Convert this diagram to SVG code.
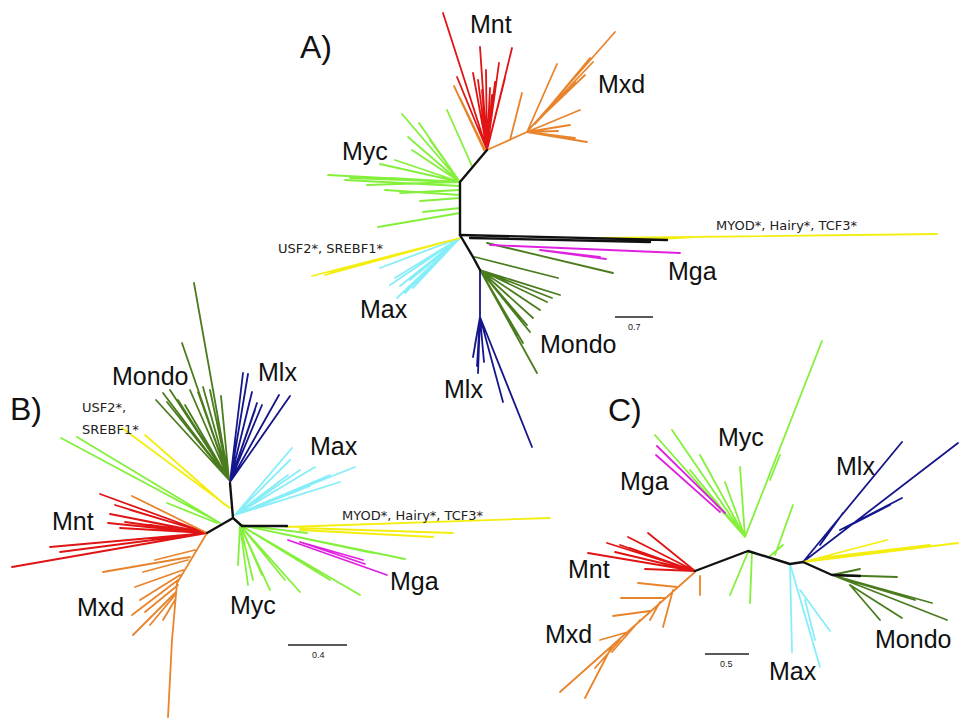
<svg xmlns="http://www.w3.org/2000/svg" width="959" height="718" viewBox="0 0 959 718">
  <style>
    .br { fill: none; stroke-width: 1.8; stroke-linecap: round; }
    .trunk { fill: none; stroke: #111; stroke-width: 2.4; stroke-linecap: round; stroke-linejoin: round; }
    .myc { stroke: #84f03c; }
    .mnt { stroke: #e01414; }
    .mxd { stroke: #e8842c; }
    .max { stroke: #86eef8; }
    .mondo { stroke: #4a7c1e; }
    .mlx { stroke: #16168c; }
    .mga { stroke: #e020e0; }
    .yel { stroke: #f4ee10; }
    .lab { font-family: "Liberation Sans", Arial, sans-serif; font-size: 25px; fill: #111; }
    .panel { font-family: "Liberation Sans", Arial, sans-serif; font-size: 32px; fill: #111; }
    .note { font-family: "DejaVu Sans", "Liberation Sans", sans-serif; font-size: 13px; fill: #222; }
    .scale { font-family: "Liberation Sans", Arial, sans-serif; font-size: 9px; fill: #222; }
    .bar { stroke: #222; stroke-width: 1.5; }
  </style>

  <!-- ===== Tree A ===== -->
  <g id="treeA">
    <text class="panel" x="300" y="58">A)</text>
    <g id="A-myc">
      <path class="br myc" d="M460 182 L402 114 M460 182 L419 123 M460 182 L408 137 M460 182 L380 164 M460 182 L328 175 M460 182 L350 178 M460 182 L395 160 M460 182 L412 150 M460 182 L390 178 M460 182 L430 140 M460 182 L367 185 M460 186 L345 180 M460 190 L400 193 M460 198 L420 201 M460 208 L423 212 M460 213 L378 227 M460 195 L385 190 M472 166 L447 110"/>
      <text class="lab" x="342" y="160">Myc</text>
    </g>
    <g id="A-mnt">
      <path class="br mnt" d="M487 150 L443 13 M487 150 L480 47 M487 150 L512 48 M487 150 L499 63 M487 150 L505 78 M487 150 L457 77 M487 150 L473 73 M487 150 L483 100 M487 150 L490 88 M487 150 L495 82 M487 150 L478 80 M487 150 L486 70 M487 150 L482 90 M487 150 L492 95"/>
      <path class="br mxd" d="M484 150 L454 86 M485 150 L460 98"/>
      <text class="lab" x="470" y="33">Mnt</text>
    </g>
    <g id="A-mxd">
      <path class="br mxd" d="M487 150 L527 132 M527 132 L615 32 M527 132 L557 64 M510 140 L522 93 M527 132 L580 110 M527 132 L587 142 M527 132 L558 131 M540 118 L593 62 M535 124 L575 82 M530 128 L560 96 M545 112 L590 58 M538 120 L585 75 M527 132 L570 125 M527 132 L575 138"/>
      <text class="lab" x="598" y="93">Mxd</text>
    </g>
    <g id="A-mondo">
      <path class="br mondo" d="M487 243 L613 273 M475 257 L558 278 M480 270 L560 295 M480 270 L547 302 M480 270 L527 325 M480 270 L537 373 M480 270 L523 343 M480 270 L540 310 M480 270 L530 332 M480 270 L518 335 M480 270 L552 298 M480 270 L533 318"/>
      <text class="lab" x="540" y="353">Mondo</text>
    </g>
    <g id="A-mlx">
      <path class="br mlx" d="M480 270 L480 317 M480 317 L478 373 M480 317 L503 402 M480 317 L532 447 M480 317 L473 357 M480 317 L477 366 M480 317 L484 362 M480 317 L475 345"/>
      <text class="lab" x="444" y="398">Mlx</text>
    </g>
    <g id="A-max">
      <path class="br max" d="M460 238 L397 298 M460 238 L380 268 M460 238 L413 288 M460 238 L390 285 M460 238 L405 293 M460 238 L395 278 M460 238 L420 272 M460 238 L400 286 M460 238 L410 280"/>
      <text class="lab" x="360" y="318">Max</text>
    </g>
    <g id="A-usf">
      <path class="br yel" d="M460 238 L312 276 M460 238 L325 275 M440 243 L330 272"/>
      <text class="note" x="278" y="253">USF2*, SREBF1*</text>
    </g>
    <g id="A-myod">
      <path class="br yel" d="M600 238 L937 234 M640 240 L695 237"/>
      <text class="note" x="716" y="230">MYOD*, Hairy*, TCF3*</text>
    </g>
    <g id="A-mga">
      <path class="br mga" d="M490 245 L680 253 M540 250 L606 259 M540 250 L600 257"/>
      <text class="lab" x="668" y="280">Mga</text>
    </g>
    <g id="A-scale">
      <line class="bar" x1="615" y1="317" x2="653" y2="317"/>
      <text class="scale" x="628" y="330">0.7</text>
    </g>
  </g>

  <!-- ===== Tree B ===== -->
  <g id="treeB">
    <text class="panel" x="10" y="420">B)</text>
    <g id="B-mondo">
      <path class="br mondo" d="M229 480 L194 283 M229 480 L182 343 M229 480 L156 400 M229 480 L163 393 M229 480 L203 387 M229 480 L221 396 M229 480 L170 390 M229 480 L178 400 M229 480 L190 390 M229 480 L198 392 M229 480 L185 405 M229 480 L210 390 M229 480 L167 402"/>
      <text class="lab" x="112" y="385">Mondo</text>
    </g>
    <g id="B-mlx">
      <path class="br mlx" d="M230 482 L243 373 M230 482 L248 374 M230 482 L279 395 M230 482 L290 396 M230 482 L257 403 M230 482 L250 400 M230 482 L255 410 M230 482 L262 405 M230 482 L252 392"/>
      <text class="lab" x="258" y="381">Mlx</text>
    </g>
    <g id="B-usf">
      <path class="br yel" d="M122 428 L230 508 M145 435 L225 505"/>
      <text class="note" x="82" y="412">USF2*,</text>
      <text class="note" x="82" y="434">SREBF1*</text>
    </g>
    <g id="B-max">
      <path class="br max" d="M235 515 L292 448 M235 515 L355 467 M235 515 L315 467 M235 515 L300 490 M235 515 L290 460 M235 515 L330 475 M235 515 L340 482 M235 515 L300 470 M235 515 L310 486 M235 515 L288 475"/>
      <text class="lab" x="310" y="455">Max</text>
    </g>
    <g id="B-mnt">
      <path class="br myc" d="M61 438 L220 523 M77 437 L215 520 M167 503 L217 523"/>
      <path class="br mnt" d="M207 533 L12 567 M207 533 L50 547 M207 533 L100 494 M207 533 L108 523 M207 533 L125 522 M207 533 L110 514 M207 533 L130 510 M207 533 L140 520 M207 533 L120 528 M207 533 L150 525 M207 533 L115 505 M207 533 L60 552"/>
      <path class="br mxd" d="M132 496 L207 533"/>
      <text class="lab" x="52" y="530">Mnt</text>
    </g>
    <g id="B-mxd">
      <path class="br mxd" d="M207 533 L177 583 L172 640 L168 717 M190 557 L103 572 M195 550 L155 560 M188 560 L143 572 M183 570 L135 587 M178 580 L132 615 M176 592 L133 635 M175 600 L163 620 M180 575 L140 600 M178 585 L145 612 M175 595 L150 625"/>
      <text class="lab" x="77" y="616">Mxd</text>
    </g>
    <g id="B-myc">
      <path class="br myc" d="M240 525 L238 565 M240 525 L253 580 M240 525 L300 592 M240 525 L360 595 M240 525 L405 559 M240 525 L373 553 M240 525 L307 533 M240 525 L248 585 M240 525 L270 590 M240 525 L285 580 M240 525 L330 580 M240 525 L262 575"/>
      <text class="lab" x="230" y="614">Myc</text>
    </g>
    <g id="B-mga">
      <path class="br mga" d="M288 540 L387 575 M300 542 L363 560 M300 542 L365 564"/>
      <text class="lab" x="390" y="590">Mga</text>
    </g>
    <g id="B-myod">
      <path class="br yel" d="M286 527 L550 518 M300 528 L453 533 M300 530 L433 537"/>
      <text class="note" x="342" y="520">MYOD*, Hairy*, TCF3*</text>
    </g>
    <g id="B-scale">
      <line class="bar" x1="288" y1="645" x2="347" y2="645"/>
      <text class="scale" x="312" y="658">0.4</text>
    </g>
  </g>

  <!-- ===== Tree C ===== -->
  <g id="treeC">
    <text class="panel" x="608" y="421">C)</text>
    <g id="C-myc">
      <path class="br myc" d="M745 537 L655 435 M745 537 L672 430 M745 537 L725 482 M745 537 L740 467 M745 537 L822 341 M770 480 L780 455 M748 552 L730 595 M752 552 L750 603 M775 555 L793 505 M770 556 L783 545 M745 537 L700 455 M745 537 L690 470"/>
      <text class="lab" x="718" y="446">Myc</text>
    </g>
    <g id="C-mga">
      <path class="br mga" d="M657 446 L725 513 M656 455 L720 512"/>
      <text class="lab" x="620" y="490">Mga</text>
    </g>
    <g id="C-mnt">
      <path class="br mnt" d="M695 571 L588 553 M695 571 L648 533 M695 571 L628 537 M695 571 L607 543 M695 571 L645 569 M695 571 L615 552 M695 571 L630 548 M695 571 L620 545"/>
      <text class="lab" x="568" y="578">Mnt</text>
    </g>
    <g id="C-mxd">
      <path class="br mxd" d="M695 572 L560 692 M677 587 L638 583 M665 598 L621 598 M650 611 L613 616 M628 632 L600 640 M612 646 L585 698 M700 576 L700 595 M673 590 L663 627 M660 602 L650 620 M640 620 L612 652 M620 640 L595 668"/>
      <text class="lab" x="545" y="643">Mxd</text>
    </g>
    <g id="C-mlx">
      <path class="br mlx" d="M803 562 L902 442 M803 562 L958 443 M840 530 L902 498 M820 545 L843 513 M845 528 L890 505"/>
      <text class="lab" x="836" y="475">Mlx</text>
    </g>
    <g id="C-yel">
      <path class="br yel" d="M803 562 L958 543 M803 562 L887 540 M820 558 L930 545"/>
    </g>
    <g id="C-mondo">
      <path class="br mondo" d="M832 575 L947 620 M832 575 L932 603 M832 575 L897 577 M832 575 L860 569 M850 585 L880 620 M850 585 L902 618 M840 578 L915 600"/>
      <text class="lab" x="875" y="648">Mondo</text>
    </g>
    <g id="C-max">
      <path class="br max" d="M790 564 L792 652 M790 564 L820 667 M800 590 L830 631 M805 600 L815 640"/>
      <text class="lab" x="769" y="680">Max</text>
    </g>
    <g id="C-scale">
      <line class="bar" x1="705" y1="654" x2="749" y2="654"/>
      <text class="scale" x="720" y="667">0.5</text>
    </g>
  </g>

  <!-- backbone connectors of the three trees -->
  <g id="connectors">
    <path class="trunk" d="M460 235 L460 182 L487 150"/>
    <path class="trunk" d="M460 235 L667 240 M470 238 L650 242"/>
    <path class="trunk" d="M460 235 L473 257 L480 270"/>
    <path class="trunk" d="M233 518 L230 483 M233 518 L207 533 M233 518 L242 526 L287 526"/>
    <path class="trunk" d="M695 571 L748 551 L790 564 L803 562 L832 575 L860 576"/>
  </g>
</svg>
